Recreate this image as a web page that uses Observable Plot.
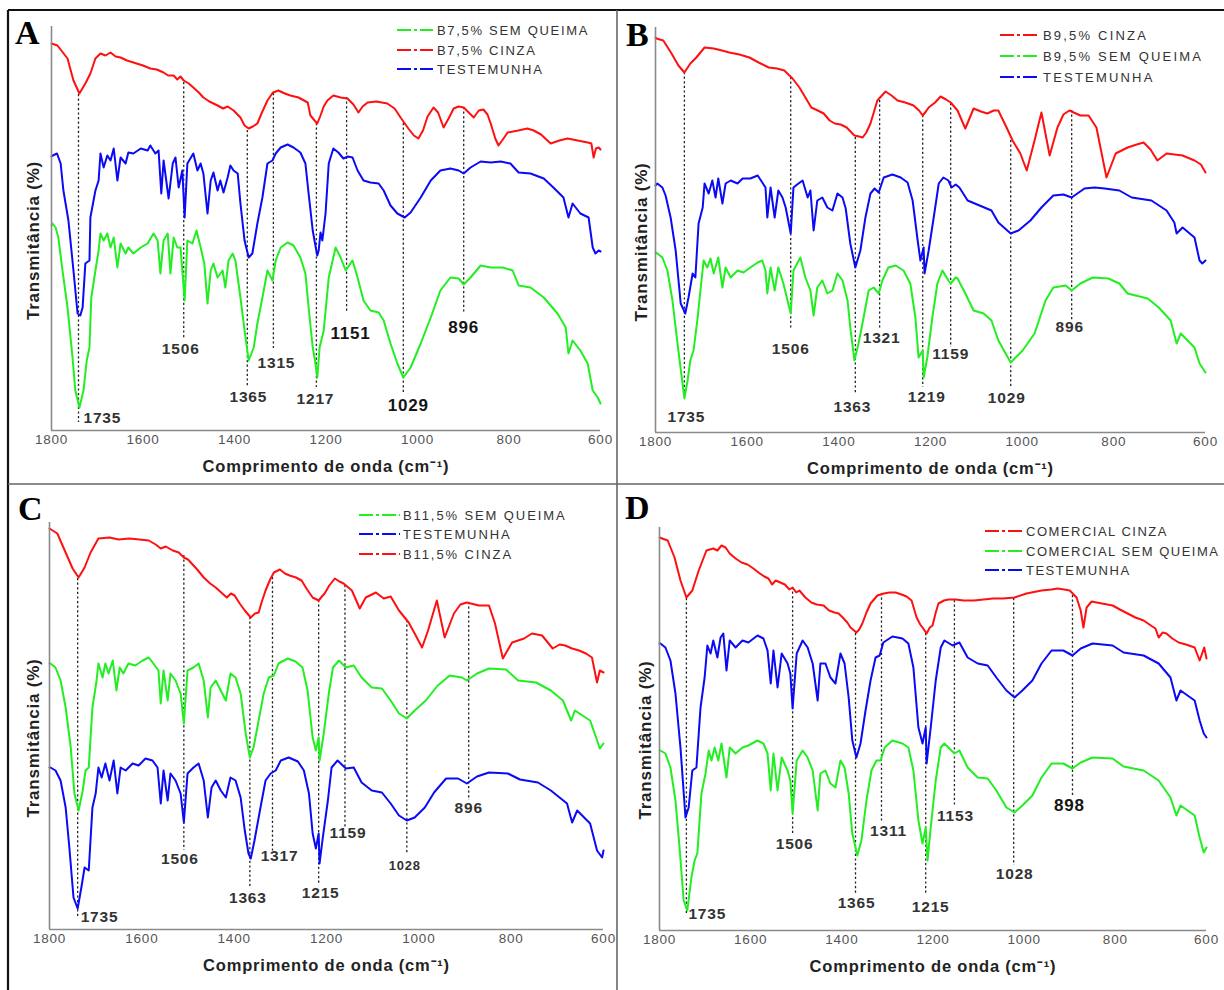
<!DOCTYPE html>
<html><head><meta charset="utf-8">
<script src="https://cdn.jsdelivr.net/npm/d3@7"></script>
<script src="https://cdn.jsdelivr.net/npm/@observablehq/plot@0.6"></script>
<style>
body{margin:0;background:#fff;}
#page{position:relative;width:1224px;height:990px;overflow:hidden;background:#fff;}
#page svg{position:absolute;}
</style></head><body><div id="page"></div>
<script>
// ---------- DATA (wavenumber cm-1, transmittance in arbitrary units) ----------
const xTicks = [1800,1600,1400,1200,1000,800,600];
const xTitle = "Comprimento de onda (cm\u207B\u00B9)";
const yTitle = "Transmitância (%)";

const redA = [[1800,387],[1787,385],[1765,372],[1752,350],[1739,337],[1726,347],[1715,357],[1704,372],[1693,377],[1682,375],[1671,378],[1660,374],[1649,373],[1635,370],[1621,368],[1600,365],[1584,362],[1570,361],[1555,358],[1545,355],[1533,355],[1525,351],[1518,354],[1511,350],[1500,347],[1490,343],[1478,338],[1468,333],[1455,329],[1437,325],[1425,322],[1415,324],[1402,320],[1387,313],[1378,305],[1369,302],[1360,304],[1350,307],[1340,318],[1328,330],[1316,338],[1304,340],[1290,337],[1278,335],[1260,333],[1240,328],[1234,315],[1225,310],[1219,307],[1212,315],[1205,324],[1197,330],[1184,335],[1168,333],[1153,332],[1140,326],[1129,318],[1120,324],[1109,328],[1090,329],[1066,327],[1050,322],[1037,313],[1020,302],[1008,295],[998,292],[988,300],[978,314],[965,323],[955,318],[943,303],[932,312],[921,322],[910,324],[899,323],[888,318],[877,313],[866,320],[856,321],[847,316],[840,307],[830,292],[823,285],[815,290],[803,298],[780,300],[760,302],[746,300],[730,296],[709,287],[690,290],[672,292],[650,290],[628,288],[620,287],[615,273],[610,282],[604,283],[600,281]];
const blueA = [[1800,274],[1797,275],[1788,277],[1780,267],[1774,240],[1763,210],[1752,160],[1743,117],[1737,115],[1732,123],[1726,167],[1717,170],[1715,213],[1704,240],[1697,250],[1693,277],[1686,263],[1678,275],[1671,270],[1664,282],[1656,250],[1649,273],[1638,267],[1632,278],[1621,277],[1605,282],[1590,280],[1584,285],[1573,277],[1566,280],[1560,237],[1555,270],[1544,232],[1535,267],[1529,273],[1522,243],[1514,260],[1509,213],[1503,267],[1490,277],[1481,260],[1474,267],[1468,257],[1459,217],[1452,250],[1446,258],[1437,240],[1431,250],[1424,238],[1415,253],[1409,265],[1402,260],[1393,257],[1387,227],[1378,190],[1369,173],[1361,177],[1350,207],[1339,233],[1328,267],[1317,270],[1310,277],[1299,283],[1284,286],[1271,283],[1256,278],[1245,267],[1238,237],[1229,200],[1224,187],[1219,175],[1216,180],[1212,198],[1208,190],[1201,217],[1194,267],[1184,282],[1173,278],[1162,272],[1152,274],[1142,273],[1131,260],[1118,250],[1103,248],[1085,247],[1074,240],[1059,225],[1044,217],[1028,213],[1015,218],[993,233],[971,250],[950,260],[928,262],[910,260],[899,257],[884,263],[862,269],[840,268],[818,269],[797,267],[779,258],[753,257],[724,252],[703,243],[681,233],[670,213],[661,227],[644,217],[626,213],[617,183],[611,177],[604,180],[600,179]];
const greenA = [[1800,205],[1798,207],[1791,203],[1785,193],[1776,160],[1765,123],[1754,73],[1748,40],[1739,23],[1730,40],[1723,70],[1717,83],[1713,133],[1704,160],[1697,180],[1693,197],[1686,190],[1678,197],[1671,183],[1664,193],[1656,163],[1649,187],[1638,177],[1632,183],[1621,177],[1605,183],[1590,187],[1577,197],[1568,190],[1562,157],[1555,190],[1546,197],[1540,157],[1533,193],[1525,183],[1518,183],[1509,130],[1503,190],[1492,187],[1483,200],[1474,183],[1466,167],[1459,127],[1452,160],[1446,167],[1437,153],[1426,160],[1420,143],[1413,170],[1404,177],[1398,170],[1387,133],[1378,100],[1369,70],[1358,83],[1350,107],[1339,133],[1328,160],[1317,150],[1310,170],[1299,183],[1284,188],[1271,185],[1256,173],[1245,157],[1238,123],[1229,83],[1223,67],[1219,53],[1214,83],[1205,100],[1194,153],[1179,183],[1168,173],[1157,160],[1142,170],[1131,153],[1118,130],[1103,120],[1085,118],[1074,110],[1059,87],[1044,67],[1031,53],[1015,63],[993,87],[971,113],[950,140],[928,153],[910,152],[899,146],[884,153],[862,165],[840,163],[814,163],[792,160],[779,145],[753,143],[724,133],[694,117],[676,103],[670,77],[661,90],[644,80],[628,67],[617,40],[606,33],[600,27]];

const redB = [[1800,395],[1798,394],[1783,392],[1765,379],[1750,367],[1737,360],[1724,369],[1711,375],[1693,385],[1673,384],[1655,382],[1639,380],[1617,378],[1595,375],[1575,370],[1553,365],[1535,364],[1519,362],[1510,358],[1501,354],[1486,345],[1473,335],[1460,325],[1446,322],[1433,319],[1420,312],[1409,309],[1396,308],[1383,305],[1366,297],[1356,296],[1348,295],[1340,300],[1331,309],[1316,332],[1298,341],[1285,337],[1272,332],[1255,330],[1237,327],[1225,322],[1217,317],[1210,321],[1204,325],[1190,330],[1178,336],[1166,333],[1156,330],[1141,322],[1124,304],[1106,324],[1090,321],[1076,319],[1062,322],[1052,322],[1034,305],[1021,292],[1004,279],[990,262],[973,292],[958,320],[940,277],[923,305],[910,318],[897,322],[873,317],[855,317],[838,305],[816,255],[796,279],[770,285],[750,288],[735,290],[720,283],[705,272],[685,279],[650,277],[624,272],[610,268],[600,260]];
const blueB = [[1800,247],[1796,249],[1785,245],[1778,237],[1767,215],[1756,182],[1745,129],[1735,119],[1728,135],[1719,159],[1713,155],[1706,209],[1697,225],[1693,249],[1684,239],[1676,252],[1669,235],[1663,254],[1654,229],[1647,249],[1636,252],[1621,249],[1610,254],[1593,254],[1577,257],[1567,250],[1560,245],[1556,215],[1549,245],[1540,215],[1532,242],[1523,235],[1516,225],[1505,199],[1499,245],[1488,249],[1479,252],[1468,235],[1462,242],[1455,202],[1447,232],[1436,235],[1425,225],[1414,222],[1403,239],[1392,235],[1385,224],[1375,189],[1364,165],[1353,182],[1342,215],[1331,239],[1322,244],[1313,240],[1302,255],[1283,258],[1265,255],[1250,250],[1239,232],[1228,192],[1222,172],[1215,185],[1213,159],[1204,182],[1193,215],[1182,249],[1172,255],[1161,252],[1154,245],[1145,248],[1137,245],[1119,232],[1093,227],[1067,222],[1052,210],[1025,199],[1008,202],[982,212],[958,225],[932,237],[910,238],[892,235],[864,244],[842,245],[820,244],[788,242],[761,235],[718,232],[685,222],[668,210],[663,199],[650,205],[624,195],[613,172],[607,169],[600,172]];
const greenB = [[1800,180],[1796,179],[1785,175],[1774,162],[1763,132],[1752,89],[1741,49],[1737,34],[1730,52],[1724,72],[1717,82],[1708,115],[1702,142],[1695,172],[1687,165],[1680,174],[1673,159],[1663,175],[1654,145],[1647,165],[1636,155],[1621,162],[1608,160],[1593,165],[1577,170],[1567,172],[1560,162],[1556,139],[1549,165],[1540,142],[1532,165],[1521,149],[1505,119],[1499,162],[1484,175],[1473,155],[1462,142],[1455,117],[1447,145],[1436,152],[1425,139],[1414,142],[1403,159],[1392,152],[1381,132],[1375,105],[1366,72],[1357,89],[1346,115],[1335,142],[1324,145],[1313,139],[1305,152],[1292,165],[1276,167],[1259,162],[1244,149],[1233,115],[1226,75],[1217,82],[1215,55],[1207,75],[1196,115],[1185,149],[1174,162],[1161,152],[1156,149],[1145,155],[1141,154],[1124,139],[1106,122],[1084,119],[1067,112],[1052,92],[1025,70],[999,82],[973,99],[949,132],[932,145],[905,147],[892,142],[873,149],[846,155],[812,154],[788,149],[770,139],[726,134],[702,125],[676,112],[663,89],[654,99],[624,85],[613,69],[600,60]];

const redC = [[1800,401],[1783,396],[1767,379],[1750,361],[1737,352],[1724,362],[1711,377],[1694,391],[1670,392],[1650,390],[1627,391],[1605,390],[1585,389],[1570,385],[1559,381],[1548,383],[1533,379],[1520,377],[1509,372],[1500,370],[1492,366],[1480,360],[1466,352],[1452,346],[1440,342],[1428,337],[1416,332],[1407,336],[1399,334],[1388,326],[1377,319],[1364,312],[1355,316],[1347,317],[1340,328],[1332,339],[1322,350],[1314,357],[1301,360],[1290,356],[1280,354],[1266,352],[1254,349],[1242,340],[1230,332],[1217,329],[1210,333],[1204,336],[1194,344],[1182,351],[1172,348],[1163,346],[1145,339],[1128,321],[1115,332],[1093,337],[1076,331],[1061,333],[1043,319],[1022,307],[1009,296],[993,282],[980,299],[961,329],[944,292],[924,316],[910,325],[896,327],[870,324],[848,324],[835,306],[818,271],[798,287],[772,291],[755,296],[733,294],[710,281],[695,285],[683,284],[668,281],[653,279],[638,276],[625,272],[614,247],[608,259],[600,257]];
const greenC = [[1800,266],[1798,266],[1787,262],[1776,249],[1765,222],[1754,182],[1746,136],[1737,119],[1728,139],[1722,159],[1715,162],[1707,222],[1698,249],[1694,266],[1685,252],[1679,266],[1672,256],[1663,269],[1655,239],[1648,262],[1640,256],[1629,266],[1614,264],[1598,269],[1585,272],[1575,266],[1564,259],[1559,226],[1553,259],[1544,229],[1538,256],[1527,249],[1516,236],[1509,206],[1501,259],[1488,262],[1477,266],[1466,249],[1457,212],[1451,242],[1440,249],[1429,239],[1418,229],[1408,256],[1397,252],[1386,236],[1375,196],[1366,172],[1358,182],[1347,209],[1336,236],[1325,252],[1314,254],[1304,266],[1284,271],[1267,268],[1252,262],[1241,239],[1230,192],[1223,179],[1217,192],[1215,169],[1206,196],[1195,236],[1186,262],[1173,269],[1158,262],[1141,264],[1124,252],[1102,242],[1080,241],[1061,229],[1043,216],[1026,211],[1009,219],[985,229],[959,244],[933,254],[907,252],[896,249],[874,256],[848,261],[811,260],[785,249],[746,247],[714,239],[688,229],[670,209],[662,219],[629,209],[616,192],[608,181],[600,186]];
const blueC = [[1800,162],[1798,162],[1787,159],[1776,149],[1765,122],[1757,82],[1748,32],[1739,21],[1731,42],[1724,62],[1715,59],[1707,122],[1700,136],[1694,162],[1687,152],[1679,166],[1670,149],[1661,169],[1653,136],[1646,162],[1635,159],[1620,166],[1607,164],[1592,171],[1577,169],[1566,162],[1559,126],[1553,159],[1544,129],[1538,156],[1527,149],[1516,136],[1509,107],[1501,156],[1488,162],[1477,166],[1466,149],[1457,112],[1449,142],[1440,149],[1429,139],[1418,132],[1408,152],[1397,149],[1386,132],[1377,99],[1369,76],[1364,71],[1356,89],[1343,122],[1332,149],[1321,156],[1310,159],[1299,169],[1282,172],[1262,168],[1249,159],[1238,136],[1230,96],[1223,81],[1217,96],[1215,66],[1208,92],[1197,129],[1189,162],[1176,169],[1158,161],[1141,162],[1124,147],[1102,139],[1080,137],[1061,126],[1043,114],[1026,109],[1009,112],[987,122],[967,137],[941,151],[915,151],[896,146],[874,153],[848,157],[807,156],[781,150],[742,147],[714,139],[679,126],[668,107],[657,119],[629,106],[614,79],[603,72],[600,79]];

const redD = [[1800,393],[1782,390],[1767,373],[1754,350],[1741,333],[1728,340],[1714,360],[1697,380],[1682,382],[1673,380],[1664,385],[1655,383],[1646,377],[1633,372],[1620,368],[1607,366],[1594,362],[1580,357],[1570,354],[1561,352],[1553,346],[1545,350],[1535,348],[1525,346],[1515,341],[1508,343],[1500,338],[1493,340],[1480,333],[1467,328],[1455,326],[1440,325],[1428,320],[1416,318],[1407,317],[1398,313],[1388,308],[1381,303],[1368,298],[1362,301],[1355,307],[1346,318],[1337,327],[1322,335],[1308,337],[1295,338],[1282,338],[1269,336],[1258,334],[1247,330],[1236,313],[1228,306],[1223,303],[1214,297],[1207,303],[1201,305],[1194,318],[1188,327],[1176,330],[1166,331],[1150,331],[1133,330],[1110,330],[1089,331],[1068,332],[1047,332],[1021,333],[995,337],[962,340],[940,341],[927,342],[912,341],[900,340],[885,333],[876,320],[870,303],[863,323],[852,329],[841,328],[806,325],[790,321],[773,317],[756,313],[738,310],[722,305],[712,302],[705,293],[696,298],[688,297],[675,292],[661,288],[645,286],[626,283],[615,270],[605,283],[600,272]];
const blueD = [[1800,287],[1798,287],[1787,283],[1776,270],[1765,237],[1754,183],[1743,113],[1736,123],[1728,160],[1719,163],[1710,223],[1701,253],[1695,285],[1688,277],[1682,290],[1673,273],[1666,293],[1660,297],[1653,260],[1646,290],[1633,283],[1618,290],[1605,288],[1585,295],[1572,292],[1563,280],[1556,247],[1550,280],[1541,243],[1532,277],[1519,267],[1513,257],[1508,222],[1499,277],[1486,290],[1475,283],[1464,267],[1453,230],[1447,267],[1436,267],[1425,253],[1414,247],[1403,277],[1394,267],[1385,233],[1377,190],[1368,173],[1359,187],[1348,220],[1337,250],[1326,273],[1317,275],[1309,288],[1289,294],[1267,292],[1254,287],[1243,263],[1232,203],[1223,187],[1216,203],[1214,167],[1205,203],[1194,250],[1183,283],[1175,290],[1157,285],[1142,288],[1124,273],[1102,267],[1080,265],[1061,253],[1039,240],[1021,233],[1004,240],[982,250],[962,267],[940,280],[914,280],[894,275],[876,282],[850,287],[806,285],[782,278],[738,275],[705,267],[679,253],[666,230],[657,240],[626,230],[615,210],[606,197],[600,193]];
const greenD = [[1800,180],[1798,180],[1787,177],[1776,163],[1765,130],[1756,83],[1747,30],[1739,20],[1730,53],[1723,70],[1717,77],[1708,137],[1699,157],[1692,180],[1686,170],[1679,183],[1671,170],[1664,187],[1653,153],[1646,183],[1633,177],[1618,183],[1605,185],[1585,190],[1572,187],[1563,177],[1556,140],[1550,177],[1541,140],[1532,173],[1519,160],[1513,150],[1508,117],[1499,170],[1486,180],[1475,173],[1464,160],[1453,120],[1447,157],[1436,160],[1425,147],[1414,143],[1403,170],[1394,163],[1385,137],[1377,97],[1366,75],[1357,90],[1346,130],[1335,160],[1324,170],[1315,170],[1306,183],[1289,190],[1267,187],[1254,183],[1243,160],[1232,110],[1223,87],[1216,103],[1212,70],[1205,103],[1194,150],[1183,183],[1175,187],[1153,177],[1142,180],[1124,163],[1102,153],[1080,152],[1061,140],[1039,123],[1021,118],[1004,125],[982,135],[962,153],[940,167],[914,167],[894,162],[876,168],[850,173],[806,172],[782,164],[738,160],[705,150],[679,133],[666,115],[657,125],[626,115],[615,93],[606,78],[600,83]];

// peak annotations: label, position (cm-1), dotted line top/bottom and label height (transmittance units)
const peaksA = [
  {label:"1735", pos:1741, top:336, bottom:8,  labelY:12},
  {label:"1506", pos:1511, top:348, bottom:92, labelY:81},
  {label:"1365", pos:1372, top:300, bottom:43, labelY:33},
  {label:"1315", pos:1315, top:337, bottom:82, labelY:67},
  {label:"1217", pos:1221, top:307, bottom:43, labelY:31},
  {label:"1151", pos:1155, top:333, bottom:117,labelY:97},
  {label:"1029", pos:1031, top:307, bottom:37, labelY:25},
  {label:"896",  pos:899,  top:323, bottom:117,labelY:103}
];
const peaksB = [
  {label:"1735", pos:1737, top:360, bottom:35, labelY:15},
  {label:"1506", pos:1505, top:355, bottom:102,labelY:83},
  {label:"1363", pos:1364, top:295, bottom:39, labelY:25},
  {label:"1321", pos:1311, top:332, bottom:102,labelY:94},
  {label:"1219", pos:1217, top:317, bottom:45, labelY:35},
  {label:"1159", pos:1156, top:329, bottom:85, labelY:78},
  {label:"1029", pos:1025, top:292, bottom:45, labelY:34},
  {label:"896",  pos:892,  top:322, bottom:112,labelY:105}
];
const peaksC = [
  {label:"1735", pos:1739, top:351, bottom:12, labelY:12},
  {label:"1506", pos:1509, top:374, bottom:79, labelY:70},
  {label:"1363", pos:1366, top:312, bottom:42, labelY:31},
  {label:"1317", pos:1317, top:352, bottom:76, labelY:73},
  {label:"1215", pos:1217, top:329, bottom:46, labelY:36},
  {label:"1159", pos:1160, top:344, bottom:102,labelY:96},
  {label:"1028", pos:1026, top:309, bottom:76, labelY:64},
  {label:"896",  pos:892,  top:327, bottom:129,labelY:121}
];
const peaksD = [
  {label:"1735", pos:1741, top:332, bottom:15, labelY:16},
  {label:"1506", pos:1508, top:343, bottom:97, labelY:86},
  {label:"1365", pos:1370, top:297, bottom:37, labelY:27},
  {label:"1311", pos:1313, top:337, bottom:108,labelY:99},
  {label:"1215", pos:1216, top:297, bottom:35, labelY:23},
  {label:"1153", pos:1153, top:330, bottom:125,labelY:114},
  {label:"1028", pos:1023, top:332, bottom:65, labelY:56},
  {label:"898",  pos:894,  top:335, bottom:133,labelY:125}
];

const legendA = [["B7,5% SEM QUEIMA","green"],["B7,5% CINZA","red"],["TESTEMUNHA","blue"]];
const legendB = [["B9,5% CINZA","red"],["B9,5% SEM QUEIMA","green"],["TESTEMUNHA","blue"]];
const legendC = [["B11,5% SEM QUEIMA","green"],["TESTEMUNHA","blue"],["B11,5% CINZA","red"]];
const legendD = [["COMERCIAL CINZA","red"],["COMERCIAL SEM QUEIMA","green"],["TESTEMUNHA","blue"]];

// ---------- STYLE / LAYOUT ----------
const FONT = "'Liberation Sans', Arial, Helvetica, sans-serif";
const COLORS = {red:"#ff1010", blue:"#0a0af5", green:"#22ee22"};
const S = 15.5, L = 17; // label font sizes
const layout = [
  {letter:"A", red:redA, green:greenA, blue:blueA, peaks:peaksA, legend:legendA, yMax:404,
   left:8, top:10, width:606, height:472, mL:43, mR:14, mT:16, mB:52, ydx:-18, ydy:12,
   peakStyle:[[5,"start",S],[-3,"middle",S],[1,"middle",S],[3,"middle",S],[-1,"middle",S],[4,"middle",L],[5,"middle",L],[0,"middle",L]],
   letterX:15, letterY:44, lgX1:397, lgX2:433, lgT:437, lgRows:[30,50,69], lgSpacing:1.7},
  {letter:"B", red:redB, green:greenB, blue:blueB, peaks:peaksB, legend:legendB, yMax:405,
   left:618, top:10, width:606, height:472, mL:37, mR:19, mT:17, mB:50, ydx:-14, ydy:12,
   peakStyle:[[2,"middle",S],[0,"middle",S],[-3,"middle",S],[2,"middle",S],[4,"middle",S],[0,"middle",S],[-4,"middle",S],[-2,"middle",S]],
   letterX:626, letterY:46, lgX1:1000, lgX2:1040, lgT:1043, lgRows:[35,56,77], lgSpacing:2.2},
  {letter:"C", red:redC, green:greenC, blue:blueC, peaks:peaksC, legend:legendC, yMax:407,
   left:8, top:486, width:606, height:502, mL:41, mR:11, mT:36, mB:59, ydx:-16, ydy:12,
   peakStyle:[[3,"start",S],[-4,"middle",S],[-2,"middle",S],[7,"middle",S],[2,"middle",S],[3,"middle",S],[-2,"middle",13],[0,"middle",S]],
   letterX:18, letterY:520, lgX1:359, lgX2:400, lgT:403, lgRows:[515,534,554], lgSpacing:1.9},
  {letter:"D", red:redD, green:greenD, blue:blueD, peaks:peaksD, legend:legendD, yMax:403,
   left:618, top:486, width:606, height:502, mL:41, mR:18, mT:41, mB:58, ydx:-14, ydy:11,
   peakStyle:[[2,"start",S],[2,"middle",S],[1,"middle",S],[7,"middle",S],[5,"middle",S],[1,"middle",S],[1,"middle",S],[-3,"middle",L]],
   letterX:625, letterY:519, lgX1:985, lgX2:1022, lgT:1026, lgRows:[531,551,570], lgSpacing:1.5}
];

const page = document.getElementById("page");
const lineOpts = {x: d => d[0], y: d => d[1], strokeWidth: 2, strokeLinejoin: "round"};

for (const p of layout) {
  const marks = [
    Plot.ruleX(p.peaks, {x: "pos", y1: "top", y2: "bottom", stroke: "#222", strokeWidth: 1.3, strokeDasharray: "2.2,2.4"}),
    Plot.line(p.green, {...lineOpts, stroke: COLORS.green}),
    Plot.line(p.blue, {...lineOpts, stroke: COLORS.blue}),
    Plot.line(p.red, {...lineOpts, stroke: COLORS.red}),
    Plot.ruleX([1800], {stroke: "#8a8a8a", strokeWidth: 1.6}),
    Plot.ruleY([0], {stroke: "#8a8a8a", strokeWidth: 1.6}),
    Plot.text(xTicks, {x: d => d, text: d => String(d), frameAnchor: "bottom", lineAnchor: "middle", dy: 9, fontSize: 13.5, fill: "#555"}),
    Plot.text([xTitle], {frameAnchor: "bottom", lineAnchor: "middle", textAnchor: "middle", dy: 36, fontSize: 16.5, fontWeight: "bold", fill: "#222"}),
    Plot.text([yTitle], {frameAnchor: "left", lineAnchor: "middle", textAnchor: "middle", rotate: -90, dx: p.ydx, dy: p.ydy, fontSize: 17, fontWeight: "bold", fill: "#222"}),
    ...p.peaks.map((pk, i) => {
      const [dx, anchor, size] = p.peakStyle[i];
      return Plot.text([pk], {x: "pos", y: "labelY", text: "label", dx, textAnchor: anchor, lineAnchor: "middle",
        fontSize: size, fontWeight: "bold", fill: size > S ? "#151515" : "#333"});
    })
  ];
  const svg = Plot.plot({
    width: p.width, height: p.height,
    marginLeft: p.mL, marginRight: p.mR, marginTop: p.mT, marginBottom: p.mB,
    x: {domain: [1800, 600], axis: null},
    y: {domain: [0, p.yMax], axis: null},
    style: {fontFamily: FONT, letterSpacing: "0.8px", background: "transparent", overflow: "visible"},
    marks
  });
  svg.style.left = p.left + "px";
  svg.style.top = p.top + "px";
  page.appendChild(svg);
}

// overlay: panel frames, letters and legends
const ov = d3.create("svg").attr("width", 1224).attr("height", 990)
  .style("left", "0px").style("top", "0px").style("pointer-events", "none");
ov.append("line").attr("x1", 8).attr("x2", 1224).attr("y1", 10).attr("y2", 10).attr("stroke", "#111").attr("stroke-width", 2.2);
ov.append("line").attr("x1", 8).attr("x2", 8).attr("y1", 10).attr("y2", 990).attr("stroke", "#111").attr("stroke-width", 2.2);
ov.append("line").attr("x1", 617).attr("x2", 617).attr("y1", 10).attr("y2", 990).attr("stroke", "#666").attr("stroke-width", 1.6);
ov.append("line").attr("x1", 8).attr("x2", 1224).attr("y1", 484).attr("y2", 484).attr("stroke", "#666").attr("stroke-width", 1.6);
for (const p of layout) {
  ov.append("text").attr("x", p.letterX).attr("y", p.letterY).text(p.letter)
    .attr("font-family", "'Liberation Serif', 'Times New Roman', serif").attr("font-weight", "bold")
    .attr("font-size", 34).attr("fill", "#000");
  p.legend.forEach(([name, col], i) => {
    const y = p.lgRows[i];
    ov.append("line").attr("x1", p.lgX1).attr("x2", p.lgX2).attr("y1", y).attr("y2", y)
      .attr("stroke", COLORS[col]).attr("stroke-width", 2).attr("stroke-dasharray", "14,3,3,3");
    ov.append("text").attr("x", p.lgT).attr("y", y + 4.7).text(name)
      .attr("font-family", FONT).attr("font-size", 13).attr("fill", "#333")
      .style("letter-spacing", p.lgSpacing + "px");
  });
}
page.appendChild(ov.node());
</script>
</body></html>
